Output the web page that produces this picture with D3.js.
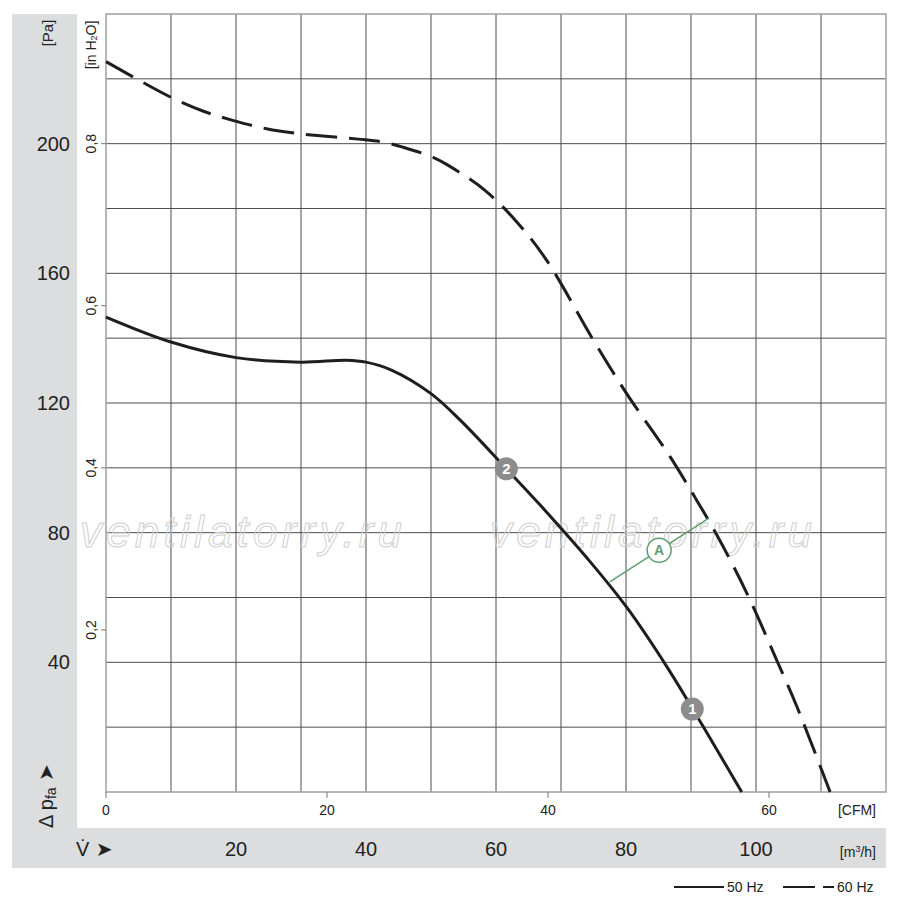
<!DOCTYPE html>
<html>
<head>
<meta charset="utf-8">
<script src="https://cdn.jsdelivr.net/npm/d3@7"></script>
<style>
  body { margin: 0; background: #fff; }
  svg text { font-family: "Liberation Sans", Arial, sans-serif; fill: #222; }
</style>
</head>
<body>
<svg id="chart" width="900" height="904"></svg>
<script>
// fan curve -- pressure vs. air flow

// 50 Hz curve (solid), x in m3/h, y in Pa
var flow50 = [0, 10, 20, 30, 37, 40, 44, 50, 54.5, 61.6, 66.8, 74.5, 80.1, 86.3, 91.9, 97.8];
var pres50 = [146.5, 138.8, 134, 132.6, 133.2, 132.6, 130.1, 122.9, 114.7, 99.7, 88.5, 71, 57, 38.6, 20.1, 0];

// 60 Hz curve (dashed)
var flow60 = [0, 10, 15, 19.5, 24.7, 30, 38.8, 42.6, 45.7, 50.1, 52.4, 58.3, 63.4, 67.8, 75, 80.1, 86.8, 90.4, 94, 98.6, 103.4, 106.3, 111.4];
var pres60 = [225.3, 214.3, 210, 207.2, 204.6, 203, 201.4, 200.5, 198.9, 196, 193.6, 185.6, 175.4, 164, 139.3, 122.9, 103.4, 91.6, 79.2, 61.3, 39.7, 26.3, 0];

// tick labels
var paTicks = [40, 80, 120, 160, 200];
var m3hTicks = [20, 40, 60, 80, 100];
var cfmTicks = [0, 20, 40, 60];
var inh2oTicks = [0.2, 0.4, 0.6, 0.8];
var inh2oLabels = ["0,2", "0,4", "0,6", "0,8"];

// numbered points on the 50 Hz curve
var markerFlow = [90.2, 61.6];
var markerPres = [25.6, 99.7];
var markerLabel = ["1", "2"];

// line "A"
var lineAFlow = [77.5, 92.7];
var lineAPres = [64.8, 84.4];
var lineACircle = [85.1, 74.6];

var legendNames = ["50 Hz", "60 Hz"];

var svg = d3.select("#chart");

var x = d3.scaleLinear().domain([0, 120]).range([106, 886]);
var y = d3.scaleLinear().domain([0, 240]).range([792, 14]);
var xCfm = function (v) { return x(v * 1.7); };
var yIn = function (v) { return y(v * 250); };

///////////////////////////////////////////////////////////////////////////////
// grey bands

svg.append("rect").attr("x", 12).attr("y", 14).attr("width", 65).attr("height", 814)
  .attr("fill", "#dcdddf");
svg.append("rect").attr("x", 12).attr("y", 828).attr("width", 874).attr("height", 40)
  .attr("fill", "#dcdddf");

///////////////////////////////////////////////////////////////////////////////
// grid

var grid = svg.append("g");
grid.selectAll("line.v").data(d3.range(10, 120, 10)).enter().append("line")
  .attr("x1", x).attr("x2", x).attr("y1", y(0)).attr("y2", y(240))
  .attr("stroke", "#4d4d4d").attr("stroke-width", 1);
grid.selectAll("line.h").data(d3.range(20, 240, 20)).enter().append("line")
  .attr("y1", y).attr("y2", y).attr("x1", x(0)).attr("x2", x(120))
  .attr("stroke", "#4d4d4d").attr("stroke-width", 1);

// frame
svg.append("rect").attr("x", x(0)).attr("y", y(240))
  .attr("width", x(120) - x(0)).attr("height", y(0) - y(240))
  .attr("fill", "none").attr("stroke", "#a0a0a0").attr("stroke-width", 1.5);

// watermark
svg.selectAll("text.wm").data([80, 490]).enter().append("text")
  .attr("x", function (d) { return d; }).attr("y", 547)
  .attr("font-size", 44).attr("font-style", "italic")
  .attr("font-family", "DejaVu Sans").attr("letter-spacing", 4.2)
  .style("fill", "none").attr("stroke", "#cfcfcf").attr("stroke-width", 1)
  .text("ventilatorry.ru");

///////////////////////////////////////////////////////////////////////////////
// axes labels

// Pa
svg.selectAll("text.pa").data(paTicks).enter().append("text")
  .attr("x", 70).attr("y", y).attr("dy", "0.35em")
  .attr("text-anchor", "end").attr("font-size", 20)
  .text(function (d) { return d; });

svg.append("text").attr("transform", "translate(47,33) rotate(-90)")
  .attr("text-anchor", "middle").attr("dominant-baseline", "central")
  .attr("font-size", 15).text("[Pa]");

// in H2O
svg.selectAll("line.intick").data(inh2oTicks).enter().append("line")
  .attr("x1", x(0) - 5).attr("x2", x(0)).attr("y1", yIn).attr("y2", yIn)
  .attr("stroke", "#777");
svg.selectAll("text.inh").data(inh2oTicks).enter().append("text")
  .attr("transform", function (d) { return "translate(91," + yIn(d) + ") rotate(-90)"; })
  .attr("text-anchor", "middle").attr("dominant-baseline", "central")
  .attr("font-size", 14)
  .text(function (d, i) { return inh2oLabels[i]; });

var inLabel = svg.append("text").attr("transform", "translate(91,45) rotate(-90)")
  .attr("text-anchor", "middle").attr("dominant-baseline", "central")
  .attr("font-size", 14);
inLabel.append("tspan").text("[in H");
inLabel.append("tspan").attr("font-size", 9).attr("dy", 3).text("2");
inLabel.append("tspan").attr("dy", -3).text("O]");

// delta p label
var dp = svg.append("text").attr("transform", "translate(46,828) rotate(-90)")
  .attr("text-anchor", "start").attr("dominant-baseline", "central")
  .attr("font-size", 20);
dp.append("tspan").text("Δ p");
dp.append("tspan").attr("font-size", 14).attr("dy", 5).text("fa");
dp.append("tspan").attr("dy", -5).attr("font-family", "DejaVu Sans").text(" ➤");

// CFM
svg.selectAll("line.cfmtick").data(cfmTicks).enter().append("line")
  .attr("x1", xCfm).attr("x2", xCfm).attr("y1", y(0)).attr("y2", y(0) + 6)
  .attr("stroke", "#777");
svg.selectAll("text.cfm").data(cfmTicks).enter().append("text")
  .attr("x", xCfm).attr("y", 810).attr("dy", "0.35em")
  .attr("text-anchor", "middle").attr("font-size", 14)
  .text(function (d) { return d; });
svg.append("text").attr("x", 876).attr("y", 810).attr("dy", "0.35em")
  .attr("text-anchor", "end").attr("font-size", 14).text("[CFM]");

// m3/h
svg.selectAll("text.m3h").data(m3hTicks).enter().append("text")
  .attr("x", x).attr("y", 849).attr("dy", "0.35em")
  .attr("text-anchor", "middle").attr("font-size", 20)
  .text(function (d) { return d; });
var m3 = svg.append("text").attr("x", 876).attr("y", 852).attr("dy", "0.35em")
  .attr("text-anchor", "end").attr("font-size", 14);
m3.append("tspan").text("[m");
m3.append("tspan").attr("font-size", 9).attr("dy", -5).text("3");
m3.append("tspan").attr("dy", 5).text("/h]");

var vdot = svg.append("text").attr("x", 76).attr("y", 849).attr("dy", "0.35em")
  .attr("font-size", 20);
vdot.append("tspan").text("V\u0307");
vdot.append("tspan").attr("font-family", "DejaVu Sans").text(" ➤");

///////////////////////////////////////////////////////////////////////////////
// curves

var line = d3.line()
  .x(function (d) { return x(d[0]); })
  .y(function (d) { return y(d[1]); })
  .curve(d3.curveCatmullRom.alpha(0.5));

svg.append("path").datum(d3.zip(flow50, pres50))
  .attr("d", line).attr("fill", "none")
  .attr("stroke", "#1e1e1e").attr("stroke-width", 3);

svg.append("path").datum(d3.zip(flow60, pres60))
  .attr("d", line).attr("fill", "none")
  .attr("stroke", "#1e1e1e").attr("stroke-width", 3)
  .attr("stroke-dasharray", "31,12");

// line A
svg.append("line")
  .attr("x1", x(lineAFlow[0])).attr("y1", y(lineAPres[0]))
  .attr("x2", x(lineAFlow[1])).attr("y2", y(lineAPres[1]))
  .attr("stroke", "#5e9e6e").attr("stroke-width", 1.5);
svg.append("circle").attr("cx", x(lineACircle[0])).attr("cy", y(lineACircle[1]))
  .attr("r", 12).attr("fill", "#fff").attr("stroke", "#5e9e6e").attr("stroke-width", 1.5);
svg.append("text").attr("x", x(lineACircle[0])).attr("y", y(lineACircle[1]))
  .attr("dy", "0.36em").attr("text-anchor", "middle")
  .attr("font-size", 14).attr("font-weight", "bold")
  .style("fill", "#5e9e6e").text("A");

// numbered markers
var marks = svg.selectAll("g.mark").data(d3.range(markerFlow.length)).enter().append("g")
  .attr("transform", function (i) {
    return "translate(" + x(markerFlow[i]) + "," + y(markerPres[i]) + ")";
  });
marks.append("circle").attr("r", 11.5).attr("fill", "#8c8c8c");
marks.append("text").attr("dy", "0.36em").attr("text-anchor", "middle")
  .attr("font-size", 15).attr("font-weight", "bold")
  .style("fill", "#fff").text(function (i) { return markerLabel[i]; });

///////////////////////////////////////////////////////////////////////////////
// legend

svg.append("line").attr("x1", 674).attr("x2", 724).attr("y1", 887).attr("y2", 887)
  .attr("stroke", "#1e1e1e").attr("stroke-width", 2);
svg.append("text").attr("x", 727).attr("y", 887).attr("dy", "0.35em")
  .attr("font-size", 14).text(legendNames[0]);
svg.append("line").attr("x1", 783).attr("x2", 834).attr("y1", 887).attr("y2", 887)
  .attr("stroke", "#1e1e1e").attr("stroke-width", 2)
  .attr("stroke-dasharray", "32,8");
svg.append("text").attr("x", 837).attr("y", 887).attr("dy", "0.35em")
  .attr("font-size", 14).text(legendNames[1]);
</script>
</body>
</html>
